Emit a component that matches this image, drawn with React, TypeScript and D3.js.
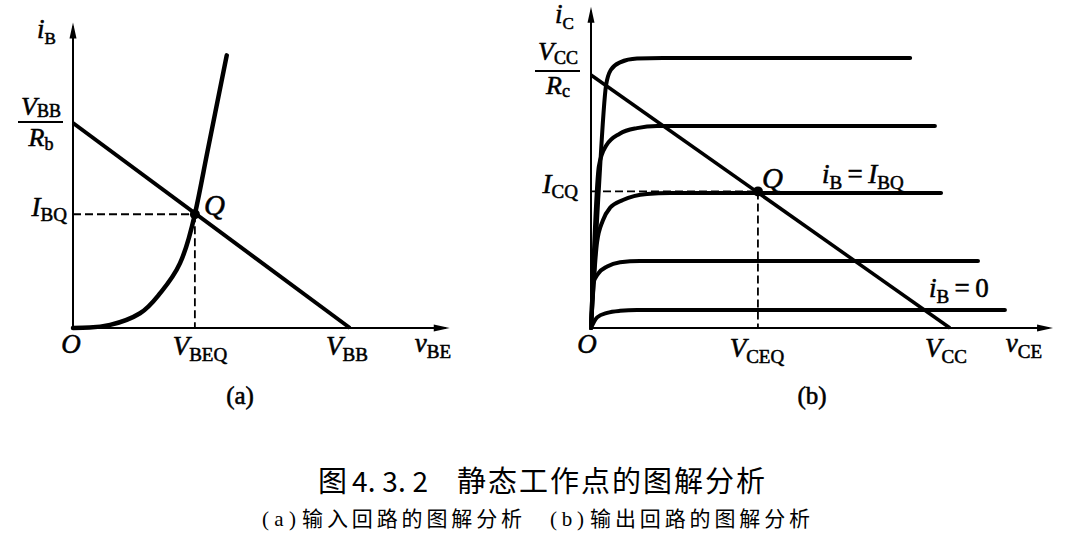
import React from "react";
import * as d3 from "d3";

// ---- (a) input loop: v_BE / i_B, units where V_BB = 10 and V_BB/R_b = 10
const inputCurve: [number, number][] = [
  [0, 0], [0.6, 0.02], [1.34, 0.15], [2.42, 0.72], [3.14, 1.69], [3.86, 3.15],
  [4.4, 5.55], [4.77, 8.03], [5.13, 10.47], [5.55, 13.3],
];
const loadLineA: [number, number][] = [[0, 10], [10, 0]];
const qPointA: [number, number] = [4.4, 5.55];
const axisMaxA: [number, number] = [13.6, 14.9];

// ---- (b) output loop: v_CE / i_C, units where V_CC = 10 and V_CC/R_c = 10
const outputCurves: [number, number][][] = [
  [[0, 0], [0.2, 5.06], [0.42, 9.6], [0.55, 10.2], [0.81, 10.5], [1.28, 10.65], [2.0, 10.67], [8.89, 10.67]],
  [[0, 0], [0.22, 6.4], [0.42, 7.2], [0.8, 7.68], [1.28, 7.9], [1.84, 7.98], [9.58, 7.98]],
  [[0, 0], [0.17, 3.4], [0.33, 4.25], [0.53, 4.75], [0.89, 5.06], [1.56, 5.3], [2.2, 5.34], [9.75, 5.34]],
  [[0, 0], [0.06, 1.75], [0.2, 2.15], [0.45, 2.43], [0.81, 2.6], [1.36, 2.65], [10.78, 2.65]],
  [[0, 0], [0.17, 0.42], [0.45, 0.6], [0.81, 0.68], [1.28, 0.71], [11.53, 0.71]],
];
const loadLineB: [number, number][] = [[0, 10], [10, 0]];
const qPointB: [number, number] = [4.65, 5.4];
const axisMaxB: [number, number] = [12.87, 12.7];

const title = ["图", "4. 3. 2", "静态工作点的图解分析"];
const subtitle = ["(a)", "输入回路的图解分析", "(b)", "输出回路的图解分析"];

const SERIF = "'Liberation Serif', 'Times New Roman', serif";
const CJK = "'Noto Sans CJK SC', sans-serif";

const xA = d3.scaleLinear().domain([0, 10]).range([73, 350]);
const yA = d3.scaleLinear().domain([0, 10]).range([328, 123]);
const xB = d3.scaleLinear().domain([0, 10]).range([591, 950]);
const yB = d3.scaleLinear().domain([0, 10]).range([328, 75]);

type SymProps = {
  x: number; y: number; main: string; sub?: string; anchor?: string;
  size?: number; subSize?: number; subDy?: number; italic?: boolean;
};

function Sym({ x, y, main, sub, anchor = "start", size = 27, subSize = 19, subDy = 6, italic = true }: SymProps) {
  return (
    <text x={x} y={y} textAnchor={anchor} fontFamily={SERIF} fontSize={size}
      stroke="#000" strokeWidth={0.55}>
      <tspan fontStyle={italic ? "italic" : "normal"}>{main}</tspan>
      {sub && <tspan fontSize={subSize} dy={subDy}>{sub}</tspan>}
    </text>
  );
}

function Axes({ x, y, xMax, yMax }: { x: d3.ScaleLinear<number, number>; y: d3.ScaleLinear<number, number>; xMax: number; yMax: number }) {
  const ox = x(0), oy = y(0), tx = x(xMax), ty = y(yMax);
  return (
    <g>
      <line x1={ox} y1={oy} x2={tx - 4} y2={oy} stroke="#000" strokeWidth={2} />
      <line x1={ox} y1={oy} x2={ox} y2={ty + 4} stroke="#000" strokeWidth={2} />
      <path d={`M${tx},${oy} L${tx - 16},${oy - 3.5} L${tx - 16},${oy + 3.5} Z`} fill="#000" />
      <path d={`M${ox},${ty} L${ox - 3.5},${ty + 16} L${ox + 3.5},${ty + 16} Z`} fill="#000" />
    </g>
  );
}

export default function App() {
  const lineA = d3.line<[number, number]>().x((d) => xA(d[0])).y((d) => yA(d[1])).curve(d3.curveNatural);
  const lineB = d3.line<[number, number]>().x((d) => xB(d[0])).y((d) => yB(d[1])).curve(d3.curveMonotoneX);
  const straightA = d3.line<[number, number]>().x((d) => xA(d[0])).y((d) => yA(d[1]));
  const straightB = d3.line<[number, number]>().x((d) => xB(d[0])).y((d) => yB(d[1]));

  const qxA = xA(qPointA[0]), qyA = yA(qPointA[1]);
  const qxB = xB(qPointB[0]), qyB = yB(qPointB[1]);

  return (
    <svg width={1075} height={553} style={{ position: "absolute", left: 0, top: 0, background: "#fff" }}>
      {/* ---------- (a) ---------- */}
      <Axes x={xA} y={yA} xMax={axisMaxA[0]} yMax={axisMaxA[1]} />
      <line x1={xA(0)} y1={qyA} x2={qxA} y2={qyA} stroke="#000" strokeWidth={1.8} strokeDasharray="8,4" />
      <line x1={qxA} y1={qyA} x2={qxA} y2={yA(0)} stroke="#000" strokeWidth={1.8} strokeDasharray="8,4" />
      <path d={straightA(loadLineA) ?? ""} fill="none" stroke="#000" strokeWidth={4} />
      <path d={lineA(inputCurve) ?? ""} fill="none" stroke="#000" strokeWidth={4.5} strokeLinecap="round" />
      <circle cx={qxA} cy={qyA} r={5} fill="#000" />

      <Sym x={xA(0) - 36} y={38} main="i" sub="B" subSize={17} subDy={6} />
      <Sym x={41} y={115} main="V" sub="BB" anchor="middle" subDy={2} size={26} subSize={18} />
      <line x1={18} x2={63} y1={yA(10) - 1} y2={yA(10) - 1} stroke="#000" strokeWidth={1.8} />
      <Sym x={41} y={146} main="R" sub="b" anchor="middle" subDy={4} size={26} subSize={18} />
      <Sym x={xA(0) - 6} y={qyA + 2} main="I" sub="BQ" anchor="end" subDy={5} />
      <Sym x={qxA + 9} y={qyA + 1} main="Q" size={29} />
      <Sym x={xA(0) - 2} y={353} main="O" anchor="middle" />
      <Sym x={qxA + 5} y={355} main="V" sub="BEQ" anchor="middle" />
      <Sym x={xA(10) - 3} y={355} main="V" sub="BB" anchor="middle" />
      <Sym x={433} y={352} main="v" sub="BE" anchor="middle" />
      <Sym x={240} y={404} main="(a)" italic={false} size={25} anchor="middle" />

      {/* ---------- (b) ---------- */}
      <Axes x={xB} y={yB} xMax={axisMaxB[0]} yMax={axisMaxB[1]} />
      <line x1={xB(0)} y1={qyB} x2={qxB} y2={qyB} stroke="#000" strokeWidth={1.8} strokeDasharray="8,4" />
      <line x1={qxB} y1={qyB} x2={qxB} y2={yB(0)} stroke="#000" strokeWidth={1.8} strokeDasharray="8,4" />
      {outputCurves.map((c, i) => (
        <path key={i} d={lineB(c) ?? ""} fill="none" stroke="#000" strokeWidth={4} strokeLinecap="round" />
      ))}
      <path d={straightB(loadLineB) ?? ""} fill="none" stroke="#000" strokeWidth={3.5} />
      <circle cx={qxB} cy={qyB} r={5} fill="#000" />

      <Sym x={xB(0) - 36} y={23} main="i" sub="C" subSize={17} subDy={6} />
      <Sym x={558} y={60} main="V" sub="CC" anchor="middle" subDy={4} size={26} subSize={18} />
      <line x1={535} x2={580} y1={yB(10) - 4} y2={yB(10) - 4} stroke="#000" strokeWidth={1.8} />
      <Sym x={558} y={94} main="R" sub="c" anchor="middle" subDy={3} size={26} subSize={18} />
      <Sym x={xB(0) - 13} y={qyB + 2} main="I" sub="CQ" anchor="end" subDy={5} />
      <Sym x={qxB + 4} y={qyB - 3} main="Q" size={29} />
      <text x={822} y={183} fontFamily={SERIF} fontSize={27} stroke="#000" strokeWidth={0.55}>
        <tspan fontStyle="italic">i</tspan>
        <tspan fontSize={19} dy={6}>B</tspan>
        <tspan dy={-6}>{"\u2009=\u2009"}</tspan>
        <tspan fontStyle="italic">I</tspan>
        <tspan fontSize={19} dy={6}>BQ</tspan>
      </text>
      <text x={929} y={297} fontFamily={SERIF} fontSize={27} stroke="#000" strokeWidth={0.55}>
        <tspan fontStyle="italic">i</tspan>
        <tspan fontSize={19} dy={6}>B</tspan>
        <tspan dy={-6}>{"\u2009=\u20090"}</tspan>
      </text>
      <Sym x={xB(0) - 4} y={353} main="O" anchor="middle" />
      <Sym x={qxB - 1} y={357} main="V" sub="CEQ" anchor="middle" />
      <Sym x={xB(10) - 4} y={357} main="V" sub="CC" anchor="middle" />
      <Sym x={1024} y={352} main="v" sub="CE" anchor="middle" />
      <Sym x={812} y={404} main="(b)" italic={false} size={25} anchor="middle" />

      {/* ---------- caption ---------- */}
      <g fontFamily={CJK} fill="#000">
        <text x={318} y={492} fontSize={29}>{title[0]}</text>
        <text x={352} y={492} fontSize={28} textLength={76} lengthAdjust="spacing">{title[1]}</text>
        <text x={457} y={492} fontSize={29} textLength={308} lengthAdjust="spacing">{title[2]}</text>
        <text x={262} y={526} fontSize={21} fontFamily={SERIF} textLength={34} lengthAdjust="spacing">{subtitle[0]}</text>
        <text x={302} y={526} fontSize={21} textLength={220} lengthAdjust="spacing">{subtitle[1]}</text>
        <text x={550} y={526} fontSize={21} fontFamily={SERIF} textLength={34} lengthAdjust="spacing">{subtitle[2]}</text>
        <text x={590} y={526} fontSize={21} textLength={220} lengthAdjust="spacing">{subtitle[3]}</text>
      </g>
    </svg>
  );
}
